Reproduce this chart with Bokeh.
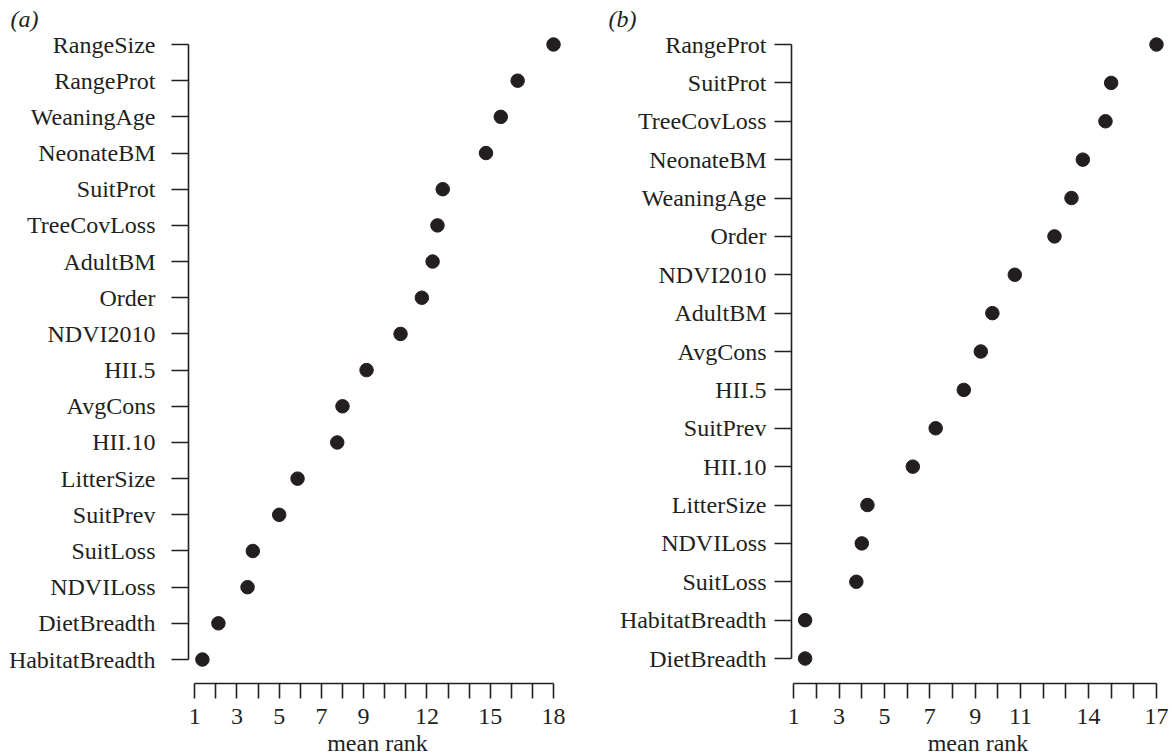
from bokeh.plotting import figure
from bokeh.layouts import row
from bokeh.models import FixedTicker, Range1d, ColumnDataSource
from bokeh.embed import file_html
from bokeh.resources import INLINE

# ---- data (top-to-bottom order as displayed) ----
names_a = ["RangeSize", "RangeProt", "WeaningAge", "NeonateBM", "SuitProt",
           "TreeCovLoss", "AdultBM", "Order", "NDVI2010", "HII.5", "AvgCons",
           "HII.10", "LitterSize", "SuitPrev", "SuitLoss", "NDVILoss",
           "DietBreadth", "HabitatBreadth"]
rank_a = [18.0, 16.3, 15.5, 14.8, 12.75, 12.5, 12.27, 11.76, 10.75, 9.14, 8.0,
          7.75, 5.87, 5.0, 3.75, 3.5, 2.12, 1.36]
ticks_a = [1, 3, 5, 7, 9, 12, 15, 18]

names_b = ["RangeProt", "SuitProt", "TreeCovLoss", "NeonateBM", "WeaningAge",
           "Order", "NDVI2010", "AdultBM", "AvgCons", "HII.5", "SuitPrev",
           "HII.10", "LitterSize", "NDVILoss", "SuitLoss", "HabitatBreadth",
           "DietBreadth"]
rank_b = [17.0, 15.0, 14.75, 13.75, 13.25, 12.5, 10.75, 9.76, 9.25, 8.5, 7.26,
          6.25, 4.25, 4.0, 3.76, 1.5, 1.5]
ticks_b = [1, 3, 5, 7, 9, 11, 14, 17]

INK = "#231f20"
FONT = "Liberation Serif"
FS = "24px"
FRAME_H = 653


def panel(names, ranks, labeled, xr, yr, frame_w, bl, br, ystand,
          letter, letter_off):
    n = len(names)
    ypos = [n - i for i in range(n)]
    xmax = labeled[-1]
    p = figure(output_backend="svg", toolbar_location=None,
               frame_width=frame_w, frame_height=FRAME_H,
               min_border_left=bl, min_border_right=br,
               min_border_top=30, min_border_bottom=72,
               x_range=Range1d(*xr), y_range=Range1d(*yr),
               background_fill_color="white", border_fill_color="white")
    p.outline_line_color = None
    p.grid.visible = False

    # panel letter
    p.title.text = "(" + letter + ")"
    p.title.align = "left"
    p.title.offset = letter_off
    p.title.text_font = FONT
    p.title.text_font_size = FS
    p.title.text_font_style = "italic"
    p.title.text_color = INK
    p.title.vertical_align = "bottom"
    p.title.standoff = -3

    src = ColumnDataSource(dict(x=ranks, y=ypos, name=names))
    p.scatter("x", "y", source=src, size=13.5, fill_color=INK, line_color=INK)

    # x axis
    xa = p.xaxis[0]
    xa.ticker = FixedTicker(ticks=list(range(1, xmax + 1)), minor_ticks=[])
    xa.major_label_overrides = {t: ("" if t not in labeled else str(t))
                                for t in range(1, xmax + 1)}
    xa.bounds = (1, xmax)
    xa.axis_label = "mean rank"
    xa.axis_label_text_font = FONT
    xa.axis_label_text_font_size = FS
    xa.axis_label_text_font_style = "normal"
    xa.axis_label_text_color = INK
    xa.axis_label_standoff = 3
    xa.major_label_text_font = FONT
    xa.major_label_text_font_size = FS
    xa.major_label_text_color = INK
    xa.major_label_standoff = 10
    xa.major_tick_out = 15
    xa.major_tick_in = 0
    xa.minor_tick_out = 0
    xa.minor_tick_in = 0
    xa.axis_line_width = 1.6
    xa.major_tick_line_width = 1.6
    xa.axis_line_color = INK
    xa.major_tick_line_color = INK

    # y axis
    ya = p.yaxis[0]
    ya.ticker = FixedTicker(ticks=ypos, minor_ticks=[])
    ya.major_label_overrides = {y: nm for y, nm in zip(ypos, names)}
    ya.bounds = (1, n)
    ya.major_label_text_font = FONT
    ya.major_label_text_font_size = FS
    ya.major_label_text_color = INK
    ya.major_label_standoff = ystand
    ya.major_tick_out = 17
    ya.major_tick_in = 0
    ya.minor_tick_out = 0
    ya.minor_tick_in = 0
    ya.axis_line_width = 1.6
    ya.major_tick_line_width = 1.6
    ya.axis_line_color = INK
    ya.major_tick_line_color = INK
    return p


p1 = panel(names_a, rank_a, ticks_a, (0.702, 18.615), (0.337, 18.387),
           378, 188, 32, 16, "a", -178)
p2 = panel(names_b, rank_b, ticks_b, (0.9, 17.353), (0.349, 17.365),
           373, 193, 8, 8, "b", -183)

layout = row(p1, p2)
open("out.html", "w").write(file_html(layout, INLINE))
